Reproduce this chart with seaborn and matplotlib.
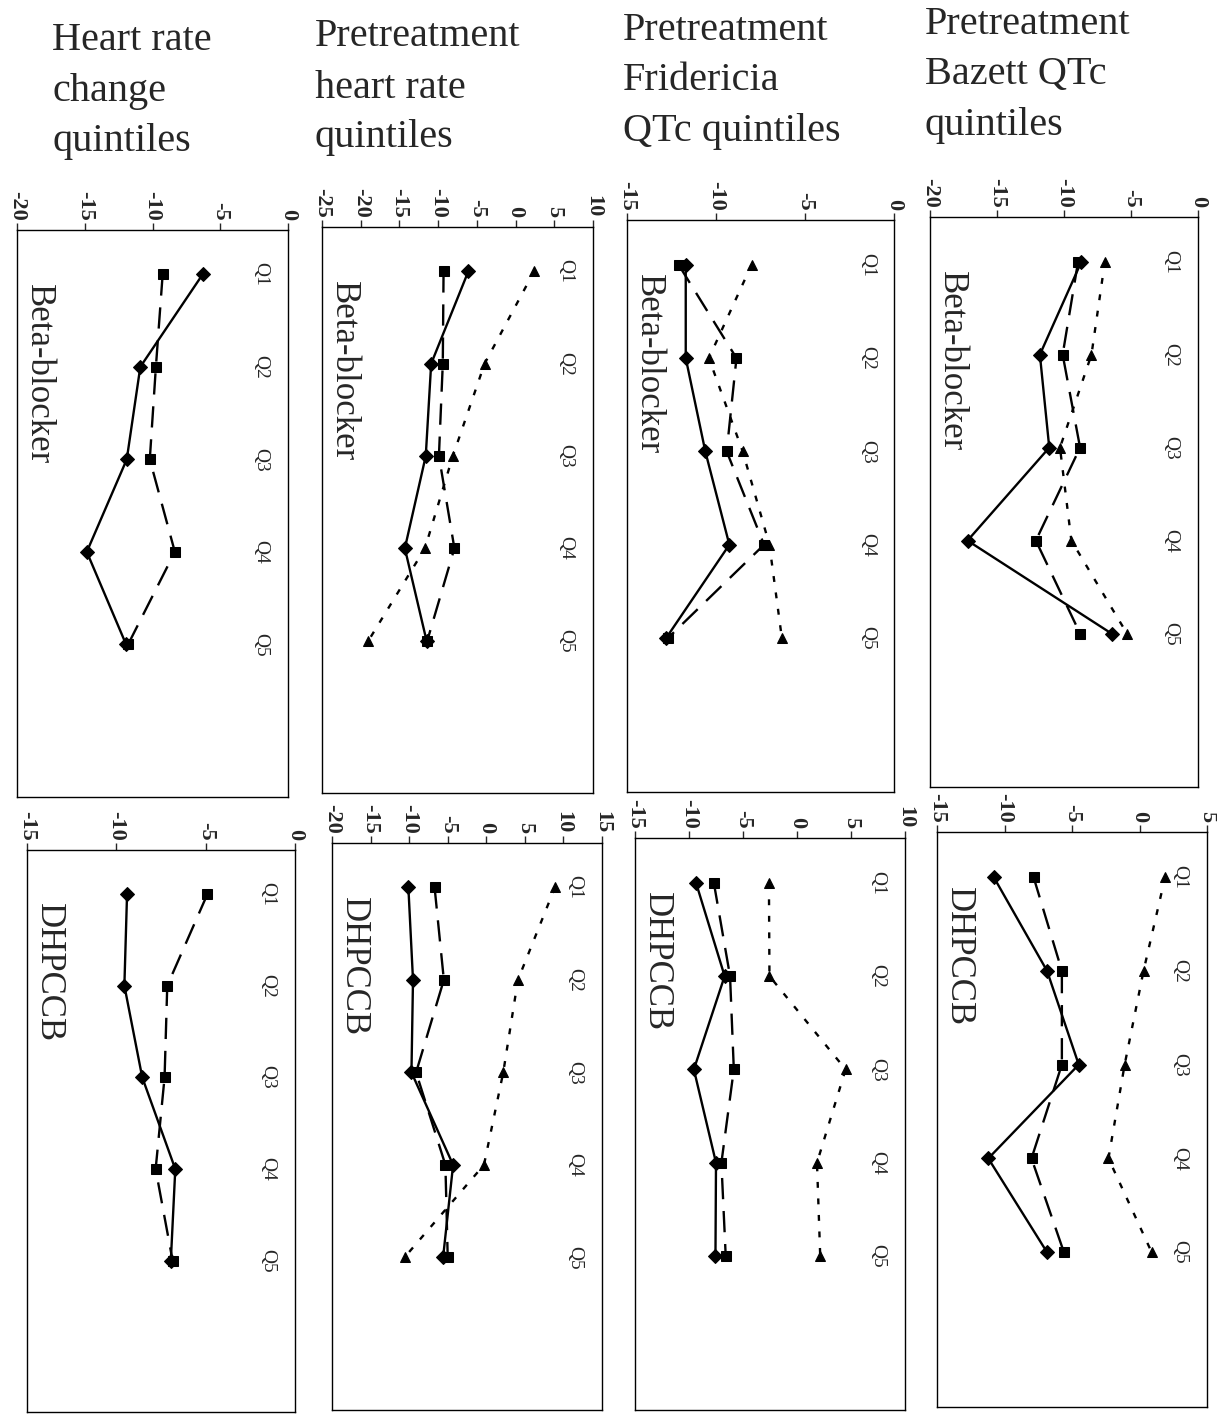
import numpy as np
import matplotlib
matplotlib.use("Agg")
import matplotlib.pyplot as plt
import matplotlib.transforms as mtransforms
import seaborn as sns

sns.set_style("white")
plt.rcParams["font.family"] = ["Liberation Serif", "DejaVu Serif"]
plt.rcParams["axes.unicode_minus"] = False

quintiles = ["Q1", "Q2", "Q3", "Q4", "Q5"]
column_titles = [
    ["Heart rate", "change", "quintiles"],
    ["Pretreatment", "heart rate", "quintiles"],
    ["Pretreatment", "Fridericia", "QTc quintiles"],
    ["Pretreatment", "Bazett QTc", "quintiles"],
]
drug_labels = ["Beta-blocker", "DHPCCB"]

# beta-blocker row (diamond = solid, square = dashed, triangle = dotted)
bb_hrchg_diamond = [-6.3, -10.9, -11.9, -14.85, -11.95]
bb_hrchg_square = [-9.25, -9.75, -10.2, -8.35, -11.8]
bb_hr_diamond = [-6.1, -10.9, -11.6, -14.3, -11.5]
bb_hr_square = [-9.3, -9.4, -9.9, -7.9, -11.4]
bb_hr_triangle = [2.4, -4.0, -8.1, -11.7, -19.0]
bb_frid_diamond = [-11.7, -11.7, -10.6, -9.25, -12.8]
bb_frid_square = [-12.1, -8.85, -9.4, -7.3, -12.7]
bb_frid_triangle = [-8.0, -10.4, -8.5, -7.0, -6.3]
bb_baz_diamond = [-8.7, -11.8, -11.1, -17.2, -6.45]
bb_baz_square = [-8.95, -10.1, -8.8, -12.1, -8.8]
bb_baz_triangle = [-6.95, -7.95, -10.3, -9.45, -5.3]

# DHPCCB row
dh_hrchg_diamond = [-9.4, -9.55, -8.55, -6.7, -6.95]
dh_hrchg_square = [-4.9, -7.15, -7.3, -7.8, -6.85]
dh_hr_diamond = [-10.1, -9.5, -9.7, -4.3, -5.6]
dh_hr_square = [-6.7, -5.5, -9.1, -5.3, -5.0]
dh_hr_triangle = [8.9, 4.1, 2.2, -0.3, -10.6]
dh_frid_diamond = [-9.35, -6.7, -9.55, -7.5, -7.55]
dh_frid_square = [-7.7, -6.2, -5.85, -7.0, -6.6]
dh_frid_triangle = [-2.6, -2.55, 4.5, 1.85, 2.15]
dh_baz_diamond = [-10.8, -6.85, -4.5, -11.2, -6.85]
dh_baz_square = [-7.85, -5.75, -5.75, -8.0, -5.6]
dh_baz_triangle = [1.9, 0.3, -1.1, -2.3, 0.9]

panels = [
    # row, col, value range, diamond, square, triangle
    (0, 0, (-20, 0), bb_hrchg_diamond, bb_hrchg_square, None),
    (0, 1, (-25, 10), bb_hr_diamond, bb_hr_square, bb_hr_triangle),
    (0, 2, (-15, 0), bb_frid_diamond, bb_frid_square, bb_frid_triangle),
    (0, 3, (-20, 0), bb_baz_diamond, bb_baz_square, bb_baz_triangle),
    (1, 0, (-15, 0), dh_hrchg_diamond, dh_hrchg_square, None),
    (1, 1, (-20, 15), dh_hr_diamond, dh_hr_square, dh_hr_triangle),
    (1, 2, (-15, 10), dh_frid_diamond, dh_frid_square, dh_frid_triangle),
    (1, 3, (-15, 5), dh_baz_diamond, dh_baz_square, dh_baz_triangle),
]

# panel boxes in pixels: left, top, right, bottom
boxes = {
    (0, 0): (17, 230, 288, 797), (0, 1): (322, 227, 593, 793),
    (0, 2): (627, 220, 894, 792), (0, 3): (930, 217, 1198, 787),
    (1, 0): (27, 850, 295, 1412), (1, 1): (332, 843, 602, 1410),
    (1, 2): (635, 838, 905, 1410), (1, 3): (937, 832, 1207, 1407),
}

W, H = 1217, 1418
fig = plt.figure(figsize=(W / 100, H / 100), dpi=100)

styles = [
    ("D", "-", 7),
    ("s", (0, (9, 5)), 7.5),
    ("^", (0, (2.5, 4.5)), 7.5),
]

pos = np.arange(len(quintiles))

for row, col, (vmin, vmax), s1, s2, s3 in panels:
    l, t, r, b = boxes[(row, col)]
    ax = fig.add_axes([l / W, 1 - b / H, (r - l) / W, (b - t) / H])
    for vals, (mk, ls, ms) in zip([s1, s2, s3], styles):
        if vals is None:
            continue
        sns.lineplot(x=vals, y=pos, orient="y", sort=False, estimator=None,
                     ax=ax, color="black", marker=mk, markersize=ms,
                     markeredgecolor="black", linewidth=1.7, linestyle=ls)
    ax.set_xlim(vmin, vmax)
    ax.set_ylim(5.65, -0.48)
    ax.set_xticks(np.arange(vmin, vmax + 1, 5))
    ax.xaxis.tick_top()
    ax.tick_params(axis="x", direction="out", length=5, width=1, pad=2,
                   labelsize=16, labelrotation=-90, top=True, bottom=False)
    for lab in ax.get_xticklabels():
        lab.set_fontweight("bold")
    ax.set_yticks([])
    ax.set_xlabel("")
    ax.set_ylabel("")
    for sp in ax.spines.values():
        sp.set_visible(True)
        sp.set_color("black")
        sp.set_linewidth(1)
    trans = mtransforms.blended_transform_factory(ax.transAxes, ax.transData)
    for i, q in enumerate(quintiles):
        ax.text(0.9, i, q, transform=trans, rotation=-90, ha="center",
                va="center", fontsize=14)
    ax.text(0.08, 0.905, drug_labels[row], transform=ax.transAxes,
            rotation=-90, ha="center", va="top", fontsize=25)

title_x = [52, 315, 623, 925]
title_y = [[41, 91, 141], [36, 88, 138], [31, 81, 131], [24, 74, 125]]
for lines, x, ys in zip(column_titles, title_x, title_y):
    for txt, y in zip(lines, ys):
        fig.text(x / W, 1 - y / H, txt, ha="left", va="center", fontsize=29)

fig.savefig("out.png", dpi=100)
